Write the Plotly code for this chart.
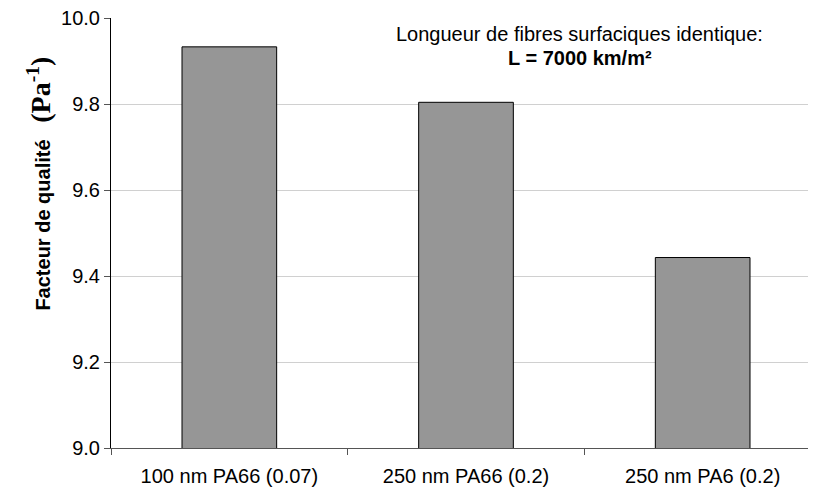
import plotly.graph_objects as go

categories = ["100 nm PA66 (0.07)", "250 nm PA66 (0.2)", "250 nm PA6 (0.2)"]
values = [9.933, 9.804, 9.443]
y_ticks = [9.0, 9.2, 9.4, 9.6, 9.8, 10.0]
y_tick_labels = ["9.0", "9.2", "9.4", "9.6", "9.8", "10.0"]

# plot area in figure px (page has an 8px body margin)
L, R, T, B = 102.5, 813.5, 10, 440
W, H = 816, 490

fig = go.Figure()
fig.add_trace(go.Bar(
    x=categories, y=values, width=0.4,
    marker=dict(color="#969696", line=dict(color="#000000", width=1)),
))

fig.update_layout(
    width=W, height=H,
    margin=dict(l=L, r=W - R, t=T, b=H - B, pad=0),
    plot_bgcolor="white", paper_bgcolor="white",
    showlegend=False,
    font=dict(family="Liberation Sans, Arial", size=20, color="black"),
    xaxis=dict(
        type="category", range=[-0.5, 2.5], automargin=False,
        tickson="boundaries", ticks="outside", ticklen=6, tickcolor="#555",
        showline=True, linecolor="#555", linewidth=1,
        showgrid=False, tickfont=dict(size=20), ticklabelstandoff=10,
    ),
    yaxis=dict(
        range=[9.0, 10.0001], tickvals=y_ticks, ticktext=y_tick_labels,
        automargin=False,
        ticks="outside", ticklen=6, tickcolor="#555",
        showline=True, linecolor="black", linewidth=1,
        showgrid=True, gridcolor="#d0d0d0", gridwidth=1,
        zeroline=False, tickfont=dict(size=20), ticklabeloverflow="allow",
    ),
    annotations=[
        dict(
            text="<b>Facteur de qualité</b>   <span style=\"font-family:'Liberation Serif','Times New Roman';font-size:28px\"><b>(Pa<sup>-1</sup>)</b></span>",
            xref="paper", yref="y", x=(30 - L) / (R - L), y=9.614, textangle=-90,
            showarrow=False, font=dict(size=20), xanchor="center", yanchor="middle",
        ),
        dict(
            text="Longueur de fibres surfaciques identique:",
            xref="paper", yref="y", x=(572 - L) / (R - L), y=9.963,
            showarrow=False, font=dict(size=20), xanchor="center", yanchor="middle",
        ),
        dict(
            text="<b>L = 7000 km/m²</b>",
            xref="paper", yref="y", x=(572 - L) / (R - L), y=9.907,
            showarrow=False, font=dict(size=20), xanchor="center", yanchor="middle",
        ),
    ],
)

fig.write_html("out.html")
